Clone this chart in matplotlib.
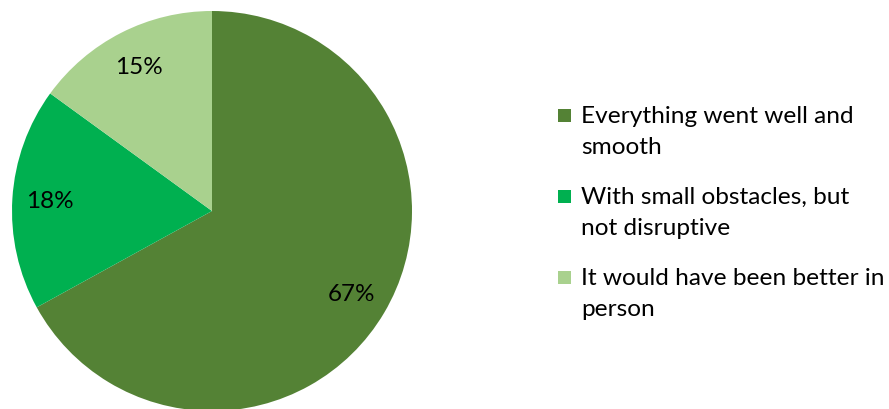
import matplotlib
matplotlib.use("Agg")
import matplotlib.pyplot as plt
from matplotlib.patches import Rectangle

categories = ["Everything went well and\nsmooth",
              "With small obstacles, but\nnot disruptive",
              "It would have been better in\nperson"]
values = [67, 18, 15]
colors = ["#548235", "#00B050", "#A9D18E"]

plt.rcParams['font.family'] = ['Lato', 'DejaVu Sans']

W, H = 889, 410
fig = plt.figure(figsize=(W/100, H/100), dpi=100)
ax = fig.add_axes([12/W, -2/H, 400/W, 400/H])
wedges, texts, autotexts = ax.pie(values, colors=colors, startangle=90, counterclock=False,
                                  autopct='%d%%', pctdistance=0.81,
                                  wedgeprops=dict(linewidth=0),
                                  textprops=dict(fontsize=17.5, color='black'))
ax.set_xlim(-1, 1)
ax.set_ylim(-1, 1)
ax.set_aspect('equal')

# manual legend (pixel layout, top-down)
first_baseline = 123
entry_step = 81
line_step = 31.5
sq = 13
for i, (lab, col) in enumerate(zip(categories, colors)):
    b = first_baseline + i * entry_step
    fig.patches.append(Rectangle((558/W, 1 - b/H), sq/W, sq/H, transform=fig.transFigure,
                                 facecolor=col, edgecolor='none'))
    for j, line in enumerate(lab.split("\n")):
        fig.text(581/W, 1 - (b + j*line_step)/H, line, fontsize=17.6, va='baseline',
                 ha='left', color='black')

fig.savefig("out.png", dpi=100)
